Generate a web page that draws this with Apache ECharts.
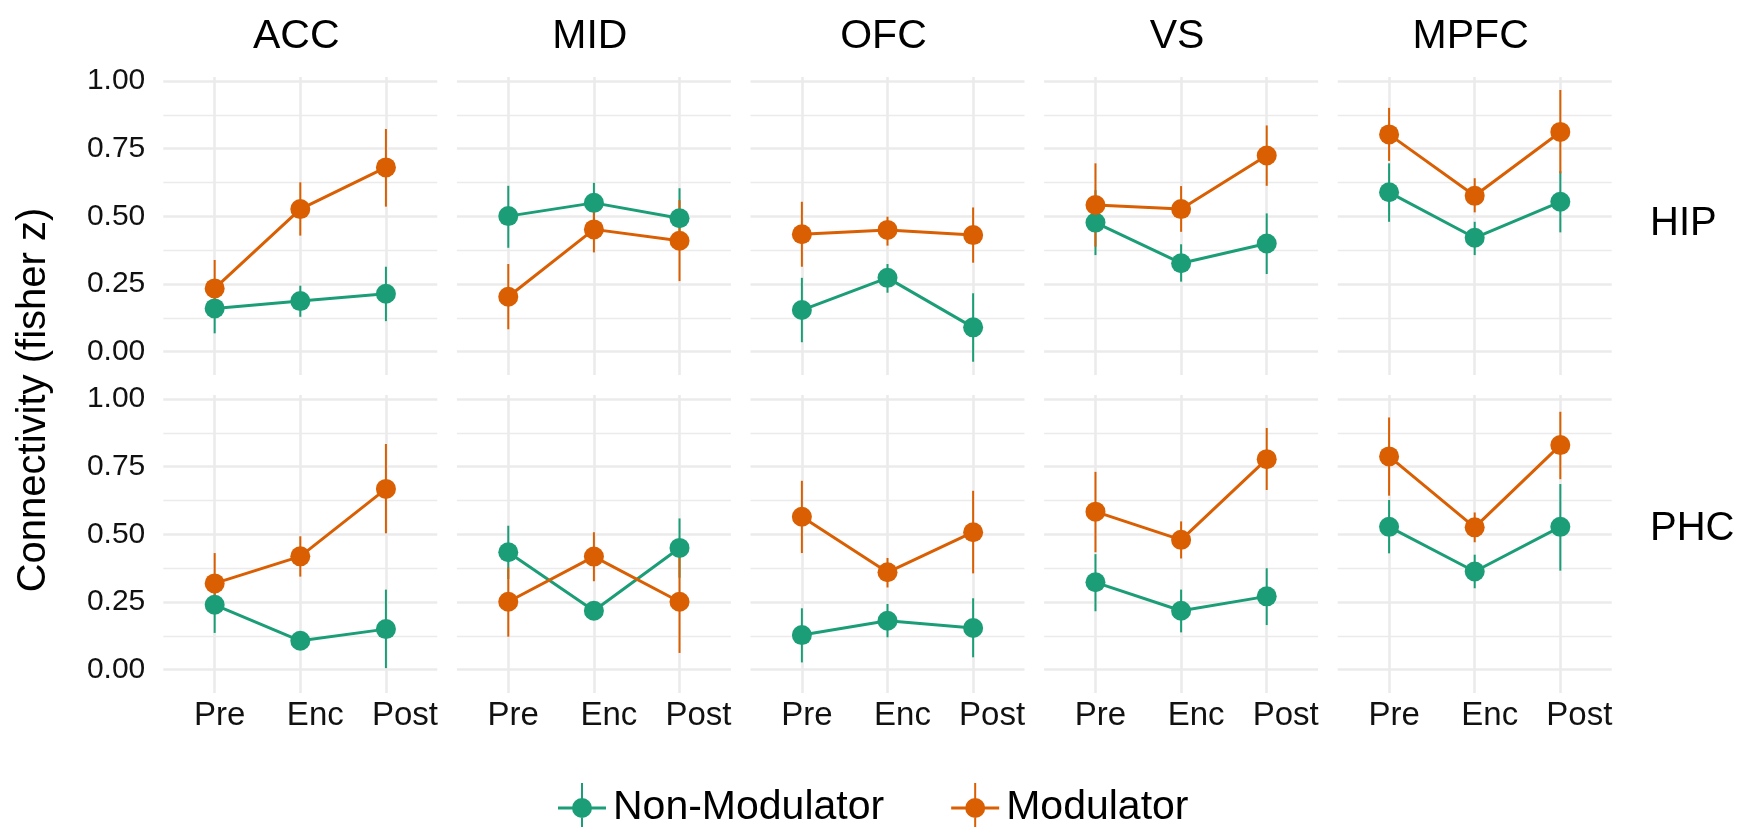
<!DOCTYPE html>
<html>
<head>
<meta charset="utf-8">
<script src="https://cdn.jsdelivr.net/npm/echarts@6/dist/echarts.min.js"></script>
<style>
  html, body { margin: 0; padding: 0; background: #fff; }
  #main { width: 1743px; height: 827px; }
</style>
</head>
<body>
<div id="main"></div>
<script>
// facets and categories
const columns = ['ACC', 'MID', 'OFC', 'VS', 'MPFC'];
const rows = ['HIP', 'PHC'];
const phases = ['Pre', 'Enc', 'Post'];
const groups = ['Non-Modulator', 'Modulator'];
const yTicks = [0, 0.25, 0.5, 0.75, 1];
const yMinorTicks = [0.125, 0.375, 0.625, 0.875];

// HIP row — one [Pre, Enc, Post] triple per column
const hipNonModMean = [[0.160, 0.187, 0.214], [0.501, 0.550, 0.493], [0.154, 0.273, 0.090], [0.477, 0.327, 0.400], [0.589, 0.421, 0.554]];
const hipNonModLo   = [[0.068, 0.129, 0.113], [0.384, 0.478, 0.380], [0.035, 0.218, -0.037], [0.357, 0.259, 0.287], [0.480, 0.357, 0.441]];
const hipNonModHi   = [[0.250, 0.244, 0.314], [0.613, 0.624, 0.604], [0.273, 0.324, 0.216], [0.597, 0.397, 0.511], [0.696, 0.480, 0.667]];
const hipModMean    = [[0.234, 0.527, 0.681], [0.203, 0.452, 0.410], [0.434, 0.450, 0.431], [0.542, 0.527, 0.725], [0.803, 0.576, 0.812]];
const hipModLo      = [[0.130, 0.429, 0.536], [0.083, 0.367, 0.261], [0.314, 0.392, 0.329], [0.388, 0.443, 0.613], [0.705, 0.515, 0.659]];
const hipModHi      = [[0.339, 0.626, 0.823], [0.324, 0.537, 0.560], [0.554, 0.499, 0.533], [0.696, 0.612, 0.836], [0.901, 0.641, 0.967]];

// PHC row
const phcNonModMean = [[0.240, 0.107, 0.150], [0.434, 0.218, 0.450], [0.128, 0.181, 0.154], [0.323, 0.218, 0.271], [0.528, 0.363, 0.528]];
const phcNonModLo   = [[0.136, 0.080, 0.006], [0.335, 0.196, 0.340], [0.027, 0.120, 0.046], [0.216, 0.138, 0.165], [0.430, 0.301, 0.366]];
const phcNonModHi   = [[0.340, 0.135, 0.296], [0.532, 0.240, 0.559], [0.227, 0.243, 0.264], [0.427, 0.296, 0.375], [0.627, 0.425, 0.686]];
const phcModMean    = [[0.319, 0.419, 0.668], [0.251, 0.418, 0.251], [0.565, 0.360, 0.508], [0.584, 0.480, 0.778], [0.788, 0.526, 0.830]];
const phcModLo      = [[0.210, 0.344, 0.504], [0.122, 0.327, 0.062], [0.431, 0.304, 0.356], [0.434, 0.411, 0.664], [0.643, 0.471, 0.704]];
const phcModHi      = [[0.431, 0.493, 0.834], [0.378, 0.508, 0.440], [0.698, 0.413, 0.661], [0.731, 0.548, 0.893], [0.932, 0.581, 0.953]];

const stats = {
  HIP: [{ mean: hipNonModMean, lo: hipNonModLo, hi: hipNonModHi }, { mean: hipModMean, lo: hipModLo, hi: hipModHi }],
  PHC: [{ mean: phcNonModMean, lo: phcNonModLo, hi: phcNonModHi }, { mean: phcModMean, lo: phcModLo, hi: phcModHi }]
};

const COLORS = ['#1B9E77', '#D95F02'];
const GRID_COLOR = '#EBEBEB';
const FONT = 'Liberation Sans, Arial, sans-serif';

// panel layout (ggplot facet_grid look)
const PANEL_LEFT = 163.3, PANEL_STEP = 293.6, PANEL_W = 274, PANEL_H = 298;
const ROW_TOP = [77, 395];
const Y_MIN = -0.086, Y_MAX = 1.015;   // limits incl. 5% expansion
const X_MIN = -0.6, X_MAX = 2.6;       // discrete axis expansion 0.6

// small per-label nudges to match the reference x labels
const xLabelRich = {};
phases.forEach((p, i) => {
  xLabelRich['p' + i] = { fontSize: 33, fontFamily: FONT, color: '#111', padding: [0, 0, 0, [10, 30, 38][i]] };
});

// legend key: horizontal + vertical stroke with a dot (pointrange glyph)
const KEY_ICON = 'path://M0,23.5H48V26.5H0Z M23,0H25V50H23Z M14,25A10,10 0 1,1 34,25A10,10 0 1,1 14,25Z';

const grids = [], xAxes = [], yAxes = [], series = [], graphics = [];

rows.forEach((row, r) => {
  columns.forEach((col, c) => {
    const idx = r * columns.length + c;
    grids.push({ left: PANEL_LEFT + c * PANEL_STEP, top: ROW_TOP[r], width: PANEL_W, height: PANEL_H });

    xAxes.push({
      gridIndex: idx, type: 'value', min: X_MIN, max: X_MAX,
      axisLine: { show: false },
      axisTick: { show: false, customValues: [0, 1, 2] },
      axisLabel: {
        show: r === rows.length - 1,
        customValues: [0, 1, 2],
        margin: 6,
        formatter: v => `{p${v}|${phases[v]}}`,
        rich: xLabelRich
      },
      splitLine: { show: true, lineStyle: { color: GRID_COLOR, width: 2.6 } }
    });

    // major gridlines + labels
    yAxes.push({
      gridIndex: idx, type: 'value', min: Y_MIN, max: Y_MAX,
      axisLine: { show: false },
      axisTick: { show: false, customValues: yTicks },
      axisLabel: {
        show: c === 0, customValues: yTicks, margin: 18,
        fontSize: 30, fontFamily: FONT, color: '#111',
        formatter: v => v.toFixed(2)
      },
      splitLine: { show: true, lineStyle: { color: GRID_COLOR, width: 2.6 } }
    });
    // minor gridlines
    yAxes.push({
      gridIndex: idx, type: 'value', min: Y_MIN, max: Y_MAX,
      axisLine: { show: false },
      axisTick: { show: false, customValues: yMinorTicks },
      axisLabel: { show: false },
      splitLine: { show: true, lineStyle: { color: GRID_COLOR, width: 1.3 } }
    });

    groups.forEach((g, k) => {
      const s = stats[row][k];
      series.push({
        type: 'custom', name: g, xAxisIndex: idx, yAxisIndex: 2 * idx, z: 2 + k, silent: true,
        encode: { x: 0, y: [1, 2] },
        data: phases.map((p, i) => [i, s.lo[c][i], s.hi[c][i]]),
        renderItem: (params, api) => {
          const a = api.coord([api.value(0), api.value(1)]);
          const b = api.coord([api.value(0), api.value(2)]);
          return {
            type: 'line',
            shape: { x1: a[0], y1: a[1], x2: b[0], y2: b[1] },
            style: { stroke: COLORS[k], lineWidth: 2 }
          };
        }
      });
    });
    groups.forEach((g, k) => {
      const s = stats[row][k];
      series.push({
        type: 'line', name: g, xAxisIndex: idx, yAxisIndex: 2 * idx, z: 4 + k, silent: true,
        data: phases.map((p, i) => [i, s.mean[c][i]]),
        symbol: 'circle', symbolSize: 20, showAllSymbol: true,
        itemStyle: { color: COLORS[k], borderWidth: 0 },
        lineStyle: { color: COLORS[k], width: 3 },
        emphasis: { disabled: true }
      });
    });

    if (r === 0) {
      graphics.push({
        type: 'text', x: PANEL_LEFT + c * PANEL_STEP + PANEL_W / 2 - 4, y: 37,
        style: { text: col, fontSize: 41, fontFamily: FONT, fill: '#000', align: 'center', verticalAlign: 'middle' }
      });
    }
  });
  graphics.push({
    type: 'text', x: 1650, y: [224, 529][r],
    style: { text: row, fontSize: 40, fontFamily: FONT, fill: '#000', align: 'left', verticalAlign: 'middle' }
  });
});

graphics.push({
  type: 'text', x: 34, y: 400, rotation: Math.PI / 2,
  style: { text: 'Connectivity (fisher z)', fontSize: 40, fontFamily: FONT, fill: '#000', align: 'center', verticalAlign: 'middle' }
});

const chart = echarts.init(document.getElementById('main'));
chart.setOption({
  animation: false,
  backgroundColor: '#fff',
  grid: grids,
  xAxis: xAxes,
  yAxis: yAxes,
  legend: {
    left: 553, top: 778,
    itemWidth: 48, itemHeight: 50, itemGap: 67,
    selectedMode: false,
    textStyle: { fontSize: 41, fontFamily: FONT, color: '#000', padding: [0, 0, 0, 2] },
    itemStyle: { borderWidth: 0 },
    data: groups.map((g, k) => ({ name: g, icon: KEY_ICON, itemStyle: { color: COLORS[k], borderWidth: 0 } }))
  },
  graphic: graphics,
  series: series
});
</script>
</body>
</html>
